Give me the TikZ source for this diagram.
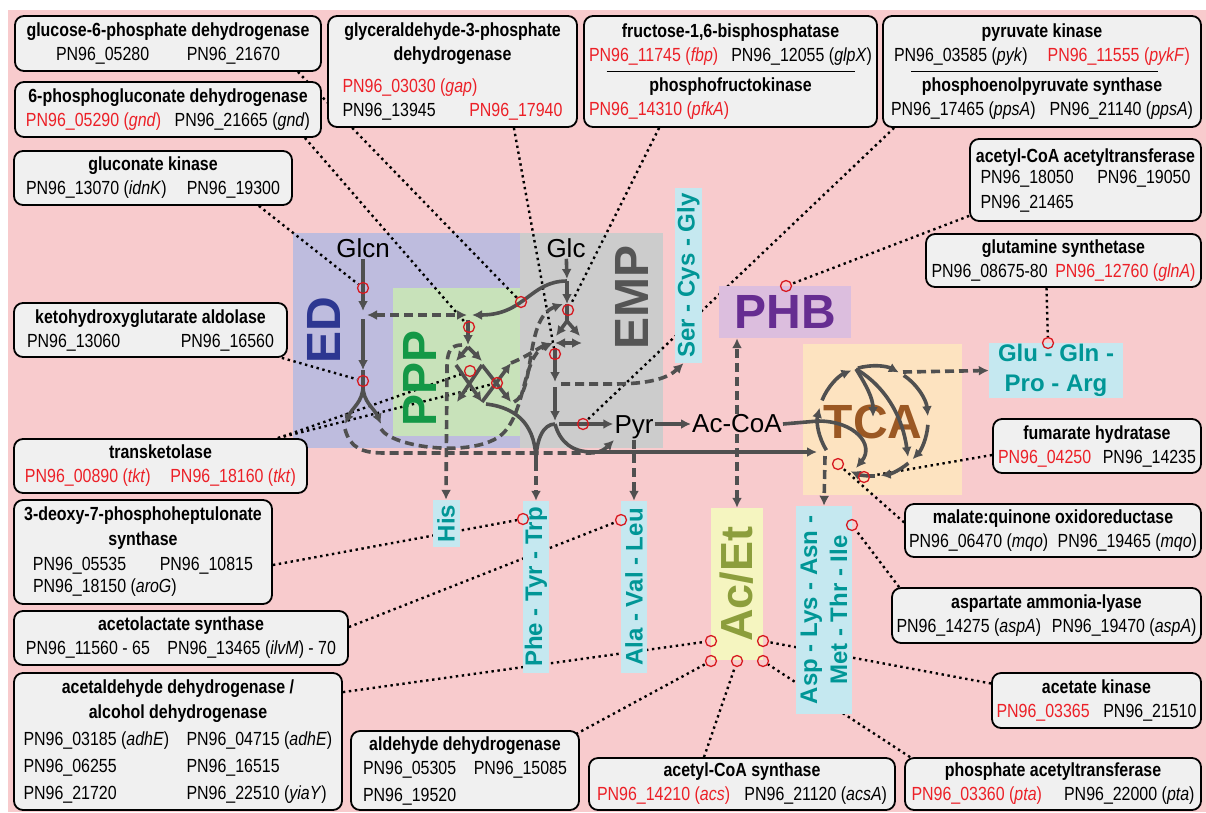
\documentclass[tikz,border=0pt]{standalone}
\usepackage{fontspec}
\setmainfont{Liberation Sans}[FakeStretch=0.84]
\newfontfamily\lblfont{Liberation Sans}
\usetikzlibrary{arrows.meta}
\definecolor{bgpink}{RGB}{248,203,205}
\definecolor{boxgray}{RGB}{240,240,240}
\definecolor{genered}{RGB}{236,32,39}
\definecolor{circred}{RGB}{215,25,32}
\definecolor{arrgray}{RGB}{80,80,80}
\definecolor{edarea}{RGB}{190,188,222}
\definecolor{edtext}{RGB}{45,55,145}
\definecolor{emparea}{RGB}{204,204,204}
\definecolor{emptext}{RGB}{85,85,85}
\definecolor{ppparea}{RGB}{200,226,186}
\definecolor{ppptext}{RGB}{20,152,70}
\definecolor{phbarea}{RGB}{220,190,222}
\definecolor{phbtext}{RGB}{102,45,145}
\definecolor{tcaarea}{RGB}{253,227,192}
\definecolor{tcatext}{RGB}{155,88,35}
\definecolor{acarea}{RGB}{245,245,192}
\definecolor{actext}{RGB}{140,158,60}
\definecolor{aaarea}{RGB}{197,232,240}
\definecolor{aatext}{RGB}{0,150,150}
\pgfdeclarelayer{bg}
\pgfdeclarelayer{dots}
\pgfsetlayers{bg,dots,main}
\newcommand{\redgene}[1]{\textcolor{genered}{#1}}
\newcommand{\boxfont}{\fontsize{19}{24}\selectfont}

\begin{document}
\begin{tikzpicture}[x=1pt, y=-1pt,
	enz/.style={draw=black, line width=1.8pt, fill=boxgray, rounded corners=9pt,
		inner sep=0pt, align=center, font=\boxfont},
	met/.style={font=\lblfont\fontsize{26}{26}\selectfont, inner sep=1pt},
	biglbl/.style={font=\lblfont\bfseries\fontsize{48}{48}\selectfont, inner sep=0pt},
	aabox/.style={fill=aaarea, text=aatext, inner sep=0pt, align=center,
		font=\lblfont\bfseries\fontsize{24}{30}\selectfont},
	redc/.style={circle, draw=circred, line width=1.3pt, minimum size=11pt, inner sep=0pt},
	enzlink/.style={black, line width=2.4pt, dash pattern=on 2.4pt off 3.6pt},
	flow/.style={draw=arrgray, line width=3.6pt},
	fwd/.style={-{Latex[length=10pt,width=10pt]}},
	dbl/.style={{Latex[length=10pt,width=10pt]}-{Latex[length=10pt,width=10pt]}},
	dsh/.style={dash pattern=on 9pt off 5pt}
	]
	\useasboundingbox (0,0) rectangle (1206,812);
	
	% background and pathway areas
	\begin{pgfonlayer}{bg}
		\fill[white] (0,0) rectangle (1206,812);
		\fill[bgpink] (8,10) rectangle (1206,812);
		\fill[edarea] (293,233) rectangle (520,448);
		\fill[emparea] (520,233) rectangle (663,448);
		\fill[ppparea] (393,288) rectangle (520,436);
		\fill[tcaarea] (803,344) rectangle (962,495);
	\end{pgfonlayer}
	
	% pathway labels
	\node[biglbl, rotate=90, text=edtext] (ed) at (324,330) {ED};
	\node[biglbl, rotate=90, text=ppptext] (ppp) at (420,378) {PPP};
	\node[biglbl, rotate=90, text=emptext] (emp) at (632,297) {EMP};
	\node[biglbl, text=tcatext] (tca) at (873,422) {TCA};
	\node[biglbl, fill=phbarea, text=phbtext, minimum width=132pt, minimum height=52pt] (phb) at (785,312) {PHB};
	\node[biglbl, rotate=90, fill=acarea, text=actext, minimum width=152pt, minimum height=52pt,
		font=\lblfont\bfseries\fontsize{45}{45}\selectfont] (acet) at (737,584) {Ac/Et};
	
	% metabolites
	\node[met] (glcn) at (363,248) {Glcn};
	\node[met] (glc) at (566,248) {Glc};
	\node[met] (pyr) at (634,427.5) {Pyr};
	\node[met] (accoa) at (737,424) {Ac-CoA};
	
	% amino acids
	\node[aabox, rotate=90, minimum width=47pt, minimum height=27pt] (his) at (446,523.5) {His};
	\node[aabox, rotate=90, minimum width=172pt, minimum height=26pt] (phe) at (536,587) {Phe - Tyr - Trp};
	\node[aabox, rotate=90, minimum width=172pt, minimum height=26pt] (ala) at (634,587) {Ala - Val - Leu};
	\node[aabox, rotate=90, minimum width=175pt, minimum height=27pt] (ser) at (688.5,275.5) {Ser - Cys - Gly};
	\node[aabox, rotate=90, minimum width=208pt, minimum height=56pt] (asp) at (824,610) {Asp - Lys - Asn -\\Met - Thr - Ile};
	\node[aabox, minimum width=134pt, minimum height=55pt] (glu) at (1056,370.5) {Glu - Gln -\\Pro - Arg};
	
	% junctions
	\coordinate (pg6) at (363,315);
	\coordinate (kdpg) at (363,386);
	\coordinate (edpyr) at (345,424);
	\coordinate (edgap) at (381,424);
	\coordinate (ppptop) at (468,315);
	\coordinate (ru5p) at (468,345);
	\coordinate (tka) at (456,361);
	\coordinate (tkb) at (482,361);
	\coordinate (tkc) at (457,402);
	\coordinate (tkd) at (482,402);
	\coordinate (tke) at (511,363);
	\coordinate (tkf) at (511,402);
	\coordinate (g6p) at (567,281);
	\coordinate (f6p) at (567,304);
	\coordinate (fbpj) at (567,321);
	\coordinate (fbpl) at (556,336);
	\coordinate (fbpr) at (580,336);
	\coordinate (gap) at (555,343);
	\coordinate (dhap) at (582,343);
	\coordinate (pga) at (555,384);
	\coordinate (pep) at (555,424);
	\coordinate (aro) at (536,462);
	\coordinate (e4p) at (486,404);
	\coordinate (hisbend) at (447,368);
	\coordinate (oaabend) at (592,452);
	\coordinate (pyrin) at (614,440);
	\coordinate (serbend) at (613,384);
	\coordinate (tcac) at (873,421);
	\coordinate (tcaw) at (818,421);
	\coordinate (tcatop) at (856,369);
	\coordinate (tcane) at (903,372);
	\coordinate (tcasw) at (825,456);
	\coordinate (tcain) at (817,452);
	\coordinate (tcai1) at (873,417);
	\coordinate (tcai2) at (908,457);
	\coordinate (tcai3) at (856,468);
	
	% ED
	\draw[flow,fwd] (glcn) -- ([yshift=4pt]pg6);
	\draw[flow,dsh,dbl] ([xshift=4pt]pg6) -- ([xshift=-1pt]ppptop);
	\draw[flow,fwd] ([yshift=-4pt]pg6) -- ([yshift=16pt]kdpg);
	\draw[flow] ([yshift=16pt]kdpg) -- (kdpg);
	\draw[flow,fwd] (kdpg) .. controls +(0,16) and +(7,-16) .. (edpyr);
	\draw[flow,fwd] (kdpg) .. controls +(0,16) and +(-7,-16) .. (edgap);
	\draw[flow,dsh,fwd] ([yshift=-5pt]edpyr) .. controls (350,448) and (362,453) .. (385,453)
		-- (590,453) .. controls (602,453) and (607,447) .. (pyrin);
	\draw[flow,dsh,fwd] ([yshift=-5pt]edgap) .. controls (392,447) and (470,458) .. (500,436)
		.. controls (526,416) and (522,356) .. ([xshift=-2pt]gap);
	
	% EMP
	\draw[flow,fwd] (glc) -- ([yshift=2pt]g6p);
	\draw[flow,fwd] (g6p) .. controls (530,281) and (525,315) .. ([xshift=4pt]ppptop);
	\draw[flow,fwd] (g6p) -- (f6p);
	\draw[flow] (f6p) -- (fbpj);
	\draw[flow,fwd] (fbpj) -- (fbpl);
	\draw[flow,fwd] (fbpj) -- (fbpr);
	\draw[flow,dbl] (gap) -- (dhap);
	\draw[flow,fwd] ([yshift=-5pt]gap) -- ([yshift=2pt]pga);
	\draw[flow,fwd] ([yshift=-3pt]pga) -- ([yshift=3pt]pep);
	\draw[flow,fwd] ([xshift=4pt]pep) -- (pep -| pyr.west);
	\draw[flow,fwd] (pep -| pyr.east) -- (pep -| accoa.west);
	\draw[flow] (pep -| accoa.east) -- (tcaw);
	\draw[flow] (e4p) .. controls (520,408) and (536,428) .. (aro);
	\draw[flow] (pep) .. controls (543,424) and (536,440) .. (aro);
	\draw[flow,dsh,fwd] (aro) -- (phe.east);
	\draw[flow,fwd] (pep) .. controls (560,442) and (572,452) .. (oaabend) -- (tcain);
	\draw[flow,dsh,fwd] ([xshift=6pt]pga) -- (serbend) .. controls (650,384) and (668,378) .. ([xshift=-5pt]ser.west);
	\draw[flow,dsh,fwd] (pyr.south) -- (ala.east);
	\draw[flow,dsh,fwd] (accoa.north) -- (accoa.north |- phb.south);
	\draw[flow,dsh,fwd] (accoa.south) -- (acet.east);
	
	% PPP
	\draw[flow,fwd] ([yshift=-5pt]ppptop) -- (ru5p);
	\draw[flow,fwd] ([yshift=-2pt]ru5p) -- (tka);
	\draw[flow,fwd] ([yshift=-2pt]ru5p) -- (tkb);
	\draw[flow,fwd] ([yshift=-4pt]tka) -- (tkd);
	\draw[flow,fwd] ([yshift=-4pt]tkb) -- (tkc);
	\draw[flow,fwd] (tkd) -- (tke);
	\draw[flow,fwd] ([yshift=-4pt]tkb) -- (tkf);
	\draw[flow,dsh,fwd] ([xshift=-6pt]ru5p) .. controls (450,345) and (447,352) .. (hisbend) -- (his.east);
	\draw[flow,dsh,fwd] ([xshift=3pt]tkf) .. controls (536,392) and (524,318) .. ([xshift=-4pt]f6p);
	\draw[flow,dsh,fwd] (tke) .. controls (528,356) and (540,347) .. ([xshift=-3pt]gap);
	
	% TCA cycle
	\draw[flow,fwd] ([shift={(212:55pt)}]tcac) arc[start angle=212, end angle=166, radius=55pt];
	\draw[flow,fwd] ([shift={(158:55pt)}]tcac) arc[start angle=158, end angle=113, radius=55pt];
	\draw[flow,fwd] ([shift={(106:55pt)}]tcac) arc[start angle=106, end angle=62, radius=55pt];
	\draw[flow,fwd] ([shift={(56:55pt)}]tcac) arc[start angle=56, end angle=5, radius=55pt];
	\draw[flow,fwd] ([shift={(-4:55pt)}]tcac) arc[start angle=-4, end angle=-44, radius=55pt];
	\draw[flow,fwd] ([shift={(-50:55pt)}]tcac) arc[start angle=-50, end angle=-82, radius=55pt];
	\draw[flow,fwd] ([shift={(-88:55pt)}]tcac) arc[start angle=-88, end angle=-114, radius=55pt];
	\draw[flow,fwd] (tcatop) .. controls (866,385) and (873,398) .. (tcai1);
	\draw[flow,fwd] (tcatop) .. controls (888,388) and (903,420) .. (tcai2);
	\draw[flow,fwd] (tcaw) .. controls (855,421) and (875,445) .. (tcai3);
	\draw[flow,dsh,fwd] (tcane) -- (glu.west);
	\draw[flow,dsh,fwd] (tcasw) -- (asp.east);
	
	% enzyme marks
	\node[redc] (cgnk) at (363,288) {};
	\node[redc] (ckga) at (363,381) {};
	\node[redc] (cgpd) at (521,302) {};
	\node[redc] (cpgd) at (469,327) {};
	\node[redc] (ctk1) at (470,371) {};
	\node[redc] (ctk2) at (497,383) {};
	\node[redc] (cfbp) at (568,310) {};
	\node[redc] (cgap) at (555,354) {};
	\node[redc] (cpk) at (583,424) {};
	\node[redc] (cacat) at (786,286) {};
	\node[redc] (cglns) at (1048,343) {};
	\node[redc] (cmqo) at (838,464) {};
	\node[redc] (cfum) at (864,477) {};
	\node[redc] (caspa) at (852,525) {};
	\node[redc] (cdahp) at (523,519) {};
	\node[redc] (cals) at (621,520) {};
	\node[redc] (cadh) at (711,641) {};
	\node[redc] (caldh) at (711,661) {};
	\node[redc] (cacs) at (737,661) {};
	\node[redc] (cpta) at (763,661) {};
	\node[redc] (cack) at (763,641) {};
	
	% enzyme boxes, top row
	\node[enz, minimum width=306pt, minimum height=55pt] (gpd) at (168,43.5)
		{\textbf{glucose-6-phosphate dehydrogenase}\\\makebox[224pt]{PN96\_05280\hfill PN96\_21670}};
	\node[enz, minimum width=306pt, minimum height=55pt] (pgd) at (168,109.5)
		{\textbf{6-phosphogluconate dehydrogenase}\\\makebox[284pt]{\redgene{PN96\_05290 (\textit{gnd})}\hfill PN96\_21665 (\textit{gnd})}};
	\node[enz, minimum width=249pt, minimum height=111pt] (gapdh) at (452.5,71.5)
		{\textbf{glyceraldehyde-3-phosphate}\\\textbf{dehydrogenase}\\[8pt]
		\makebox[220pt][l]{\redgene{PN96\_03030 (\textit{gap})}}\\\makebox[220pt]{PN96\_13945\hfill\redgene{PN96\_17940}}};
	\node[enz, minimum width=293pt, minimum height=111pt] (fbp) at (730.5,71.5)
		{\textbf{fructose-1,6-bisphosphatase}\\\makebox[283pt]{\redgene{PN96\_11745 (\textit{fbp})}\hfill PN96\_12055 (\textit{glpX})}\\[6pt]
		\textbf{phosphofructokinase}\\\makebox[283pt][l]{\redgene{PN96\_14310 (\textit{pfkA})}}};
	\draw[line width=1.5pt] ([xshift=-124pt]fbp.center) -- ([xshift=124pt]fbp.center);
	\node[enz, minimum width=318pt, minimum height=111pt] (pk) at (1042,71.5)
		{\textbf{pyruvate kinase}\\\makebox[296pt]{PN96\_03585 (\textit{pyk})\hfill\redgene{PN96\_11555 (\textit{pykF})}}\\[6pt]
		\textbf{phosphoenolpyruvate synthase}\\\makebox[302pt]{PN96\_17465 (\textit{ppsA})\hfill PN96\_21140 (\textit{ppsA})}};
	\draw[line width=1.5pt] ([xshift=-131pt]pk.center) -- ([xshift=116pt]pk.center);
	
	% enzyme boxes, left column
	\node[enz, minimum width=278pt, minimum height=54pt] (gnk) at (153,178)
		{\textbf{gluconate kinase}\\\makebox[254pt]{PN96\_13070 (\textit{idnK})\hfill PN96\_19300}};
	\node[enz, minimum width=273pt, minimum height=54pt] (kga) at (150.5,330)
		{\textbf{ketohydroxyglutarate aldolase}\\\makebox[247pt]{PN96\_13060\hfill PN96\_16560}};
	\node[enz, minimum width=293pt, minimum height=54pt] (tkt) at (160.5,466)
		{\textbf{transketolase}\\\makebox[271pt]{\redgene{PN96\_00890 (\textit{tkt})\hfill PN96\_18160 (\textit{tkt})}}};
	\node[enz, minimum width=258pt, minimum height=104pt] (dahp) at (143,552)
		{\textbf{3-deoxy-7-phosphoheptulonate}\\[1pt]\textbf{synthase}\\[1pt]
		\makebox[220pt]{PN96\_05535\hfill PN96\_10815}\\[-2pt]\makebox[220pt][l]{PN96\_18150 (\textit{aroG})}};
	\node[enz, minimum width=334pt, minimum height=54pt] (als) at (181,638)
		{\textbf{acetolactate synthase}\\\makebox[310pt]{PN96\_11560 - 65\hfill PN96\_13465 (\textit{ilvM}) - 70}};
	\node[enz, minimum width=328pt, minimum height=137pt] (adh) at (178,741.5)
		{\textbf{acetaldehyde dehydrogenase /}\\[1pt]\textbf{alcohol dehydrogenase}\\[3pt]
		\makebox[309pt][l]{\makebox[163pt][l]{PN96\_03185 (\textit{adhE})}PN96\_04715 (\textit{adhE})}\\[3pt]
		\makebox[309pt][l]{\makebox[163pt][l]{PN96\_06255}PN96\_16515}\\[3pt]
		\makebox[309pt][l]{\makebox[163pt][l]{PN96\_21720}PN96\_22510 (\textit{yiaY})}};
	
	% enzyme boxes, bottom row
	\node[enz, minimum width=228pt, minimum height=79pt] (aldh) at (465,770.5)
		{\textbf{aldehyde dehydrogenase}\\\makebox[204pt]{PN96\_05305\hfill PN96\_15085}\\[3pt]\makebox[204pt][l]{PN96\_19520}};
	\node[enz, minimum width=306pt, minimum height=52pt] (acs) at (742,784)
		{\textbf{acetyl-CoA synthase}\\\makebox[290pt]{\redgene{PN96\_14210 (\textit{acs})}\hfill PN96\_21120 (\textit{acsA})}};
	\node[enz, minimum width=296pt, minimum height=52pt] (pta) at (1053,784)
		{\textbf{phosphate acetyltransferase}\\\makebox[283pt]{\redgene{PN96\_03360 (\textit{pta})}\hfill PN96\_22000 (\textit{pta})}};
	
	% enzyme boxes, right column
	\node[enz, minimum width=231pt, minimum height=82pt] (acat) at (1085.5,180)
		{\textbf{acetyl-CoA acetyltransferase}\\[-3pt]\makebox[210pt]{PN96\_18050\hfill PN96\_19050}\\[1pt]\makebox[210pt][l]{PN96\_21465}};
	\node[enz, minimum width=275pt, minimum height=53pt] (glns) at (1063.5,260.5)
		{\textbf{glutamine synthetase}\\\makebox[264pt]{PN96\_08675-80\hfill\redgene{PN96\_12760 (\textit{glnA})}}};
	\node[enz, minimum width=208pt, minimum height=54pt] (fum) at (1097,446)
		{\textbf{fumarate hydratase}\\\makebox[198pt]{\redgene{PN96\_04250}\hfill PN96\_14235}};
	\node[enz, minimum width=296pt, minimum height=53pt] (mqo) at (1053,530.5)
		{\textbf{malate:quinone oxidoreductase}\\\makebox[288pt]{PN96\_06470 (\textit{mqo})\hfill PN96\_19465 (\textit{mqo})}};
	\node[enz, minimum width=309pt, minimum height=55pt] (aspa) at (1046.5,615.5)
		{\textbf{aspartate ammonia-lyase}\\\makebox[300pt]{PN96\_14275 (\textit{aspA})\hfill PN96\_19470 (\textit{aspA})}};
	\node[enz, minimum width=209pt, minimum height=55pt] (ack) at (1096.5,700.5)
		{\textbf{acetate kinase}\\\makebox[200pt]{\redgene{PN96\_03365}\hfill PN96\_21510}};
	
	% dotted links from the boxes to the reactions
	\begin{pgfonlayer}{dots}
		\draw[enzlink] ([xshift=-24pt]gpd.south east) -- (cgpd);
		\draw[enzlink] ([xshift=-17pt]pgd.south east) -- (cpgd);
		\draw[enzlink] ([xshift=-64pt]gapdh.south east) -- (cgap);
		\draw[enzlink] ([xshift=76pt]fbp.south west) -- (cfbp);
		\draw[enzlink] ([xshift=12pt]pk.south west) -- (cpk);
		\draw[enzlink] ([xshift=-34pt]gnk.south east) -- (cgnk);
		\draw[enzlink] ([xshift=-6pt]kga.south east) -- (ckga);
		\draw[enzlink] ([xshift=-30pt]tkt.north east) -- (ctk1);
		\draw[enzlink] ([xshift=-30pt]tkt.north east) -- (ctk2);
		\draw[enzlink] ([yshift=-13pt]dahp.east) -- (cdahp);
		\draw[enzlink] ([yshift=11pt]als.east) -- (cals);
		\draw[enzlink] ([yshift=-20pt]adh.north east) -- (cadh);
		\draw[enzlink] ([xshift=-4pt,yshift=-4pt]aldh.north east) -- (caldh);
		\draw[enzlink] ([xshift=-38pt]acs.north) -- (cacs);
		\draw[enzlink] ([xshift=6pt]pta.north west) -- (cpta);
		\draw[enzlink] ([yshift=17pt]ack.west) -- (cack);
		\draw[enzlink] ([xshift=8pt]aspa.north west) -- (caspa);
		\draw[enzlink] ([yshift=8pt]mqo.west) -- (cmqo);
		\draw[enzlink] ([yshift=-9pt]fum.west) -- (cfum);
		\draw[enzlink] ([xshift=-17pt]glns.south) -- (cglns);
		\draw[enzlink] ([yshift=6pt]acat.south west) -- (cacat);
	\end{pgfonlayer}
\end{tikzpicture}
\end{document}
